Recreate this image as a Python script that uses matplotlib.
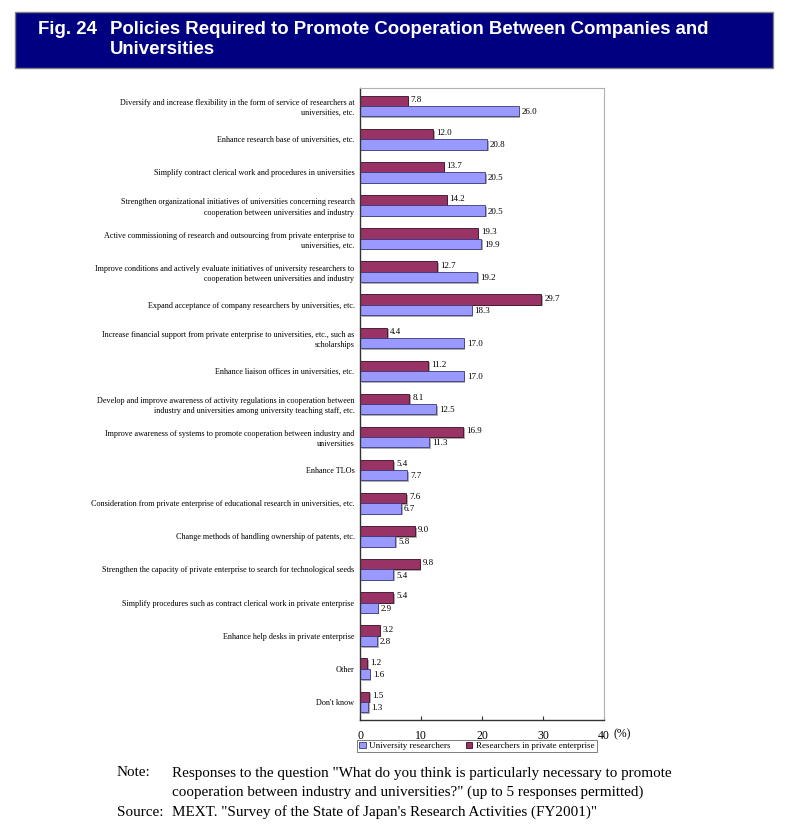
import matplotlib
matplotlib.use("Agg")
import matplotlib.pyplot as plt
from matplotlib.patches import Rectangle, Patch
import matplotlib.patheffects as pe
import numpy as np

categories = [
    "Diversify and increase flexibility in the form of service of researchers at\nuniversities, etc.",
    "Enhance research base of universities, etc.",
    "Simplify contract clerical work and procedures in universities",
    "Strengthen organizational initiatives of universities concerning research\ncooperation between universities and industry",
    "Active commissioning of research and outsourcing from private enterprise to\nuniversities, etc.",
    "Improve conditions and actively evaluate initiatives of university researchers to\ncooperation between universities and industry",
    "Expand acceptance of company researchers by universities, etc.",
    "Increase financial support from private enterprise to universities, etc., such as\nscholarships",
    "Enhance liaison offices in universities, etc.",
    "Develop and improve awareness of activity regulations in cooperation between\nindustry and universities among university teaching staff, etc.",
    "Improve awareness of systems to promote cooperation between industry and\nuniversities",
    "Enhance TLOs",
    "Consideration from private enterprise of educational research in universities, etc.",
    "Change methods of handling ownership of patents, etc.",
    "Strengthen the capacity of private enterprise to search for technological seeds",
    "Simplify procedures such as contract clerical work in private enterprise",
    "Enhance help desks in private enterprise",
    "Other",
    "Don't know",
]
private = [7.8, 12.0, 13.7, 14.2, 19.3, 12.7, 29.7, 4.4, 11.2, 8.1, 16.9, 5.4, 7.6, 9.0, 9.8, 5.4, 3.2, 1.2, 1.5]
university = [26.0, 20.8, 20.5, 20.5, 19.9, 19.2, 18.3, 17.0, 17.0, 12.5, 11.3, 7.7, 6.7, 5.8, 5.4, 2.9, 2.8, 1.6, 1.3]
xticks = [0, 10, 20, 30, 40]
series_names = ["University researchers", "Researchers in private enterprise"]

C_UNIV = "#9999FF"
C_PRIV = "#993366"
SERIF = "Liberation Serif"

W, H = 789, 836
fig = plt.figure(figsize=(W / 100, H / 100), dpi=100)

# Title box
fig.patches.append(Rectangle((15 / W, 1 - 68 / H), 758 / W, 56 / H, transform=fig.transFigure,
                             facecolor="#000080", edgecolor="#808080", linewidth=1.0))
TF = 13.4
fig.text(38 / W, 1 - 29 / H, "Fig. 24", color="white", fontsize=TF, fontweight="bold",
         family="Liberation Sans", va="center", ha="left")
fig.text(110 / W, 1 - 29 / H, "Policies Required to Promote Cooperation Between Companies and",
         color="white", fontsize=TF, fontweight="bold", family="Liberation Sans", va="center", ha="left")
fig.text(110 / W, 1 - 50 / H, "Universities",
         color="white", fontsize=TF, fontweight="bold", family="Liberation Sans", va="center", ha="left")

ax = fig.add_axes([360 / W, 1 - 720 / H, 244 / W, 632 / H])
y = np.arange(len(categories))
bh = 0.31
shadow = [pe.SimplePatchShadow(offset=(1.2, -1.2), shadow_rgbFace="#999999", alpha=0.8), pe.Normal()]
bp = ax.barh(y - bh / 2, private, height=bh, color=C_PRIV, edgecolor="#3a0d22", linewidth=0.6)
bu = ax.barh(y + bh / 2, university, height=bh, color=C_UNIV, edgecolor="#3a3a7a", linewidth=0.6)
for b in list(bp) + list(bu):
    b.set_path_effects(shadow)

for yi, v in zip(y, private):
    ax.text(v + 0.5, yi - bh / 2 - 0.03, f"{v:.1f}", fontsize=6.5, family=SERIF, va="center", ha="left")
for yi, v in zip(y, university):
    ax.text(v + 0.5, yi + bh / 2 + 0.03, f"{v:.1f}", fontsize=6.5, family=SERIF, va="center", ha="left")

ax.set_xlim(0, 40)
ax.set_ylim(len(categories) - 0.45, -0.55)
ax.set_xticks(xticks)
ax.set_xticklabels([str(t) for t in xticks], fontsize=8.5, family=SERIF)
ax.tick_params(axis="x", direction="in", length=3, pad=7, color="#333333")
ax.set_yticks(y)
ax.set_yticklabels(categories, fontsize=5.9, family=SERIF, linespacing=1.35)
ax.tick_params(axis="y", length=0, pad=4)
for s in ["top", "right"]:
    ax.spines[s].set_color("#b0b0b0")
for s in ["left", "bottom"]:
    ax.spines[s].set_color("#333333")
    ax.spines[s].set_linewidth(1.0)

fig.text(613 / W, 1 - 734 / H, "(%)", fontsize=8.5, family=SERIF, va="center", ha="left")

handles = [Patch(facecolor=C_UNIV, edgecolor="#3a3a7a", linewidth=0.6),
           Patch(facecolor=C_PRIV, edgecolor="#3a0d22", linewidth=0.6)]
leg = fig.legend(handles, series_names, loc="center left", bbox_to_anchor=(357 / W, 1 - 746 / H),
                 ncol=2, frameon=True, fancybox=False, edgecolor="#444444",
                 prop={"family": SERIF, "size": 6.5}, handlelength=0.7, handleheight=0.7,
                 handletextpad=0.4, columnspacing=1.7, borderpad=0.25, borderaxespad=0)
leg.get_frame().set_linewidth(0.6)

NF = 10.9
fig.text(117 / W, 1 - 773 / H, "Note:", fontsize=NF, family=SERIF, va="center", ha="left")
fig.text(172 / W, 1 - 773 / H, "Responses to the question \"What do you think is particularly necessary to promote",
         fontsize=NF, family=SERIF, va="center", ha="left")
fig.text(172 / W, 1 - 792 / H, "cooperation between industry and universities?\" (up to 5 responses permitted)",
         fontsize=NF, family=SERIF, va="center", ha="left")
fig.text(117 / W, 1 - 812 / H, "Source:", fontsize=NF, family=SERIF, va="center", ha="left")
fig.text(172 / W, 1 - 812 / H, "MEXT. \"Survey of the State of Japan's Research Activities (FY2001)\"",
         fontsize=NF, family=SERIF, va="center", ha="left")

fig.savefig("out.png", dpi=100)
